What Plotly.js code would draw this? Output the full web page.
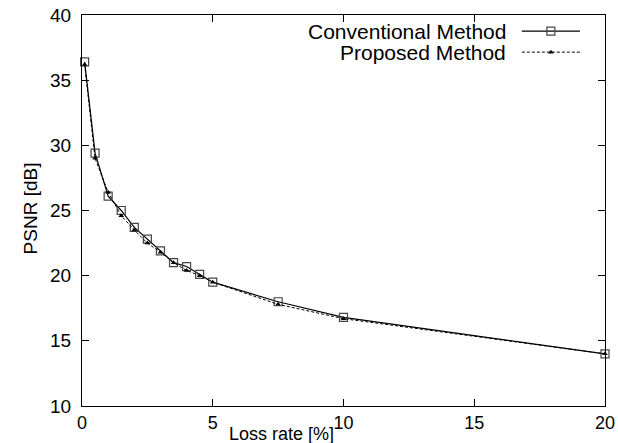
<!DOCTYPE html>
<html>
<head>
<meta charset="utf-8">
<script src="https://cdn.plot.ly/plotly-3.0.1.min.js"></script>
<style>html,body{margin:0;padding:0;background:#fff;}#chart{width:618px;height:443px;}</style>
</head>
<body>
<div id="chart"></div>
<script>
const lossRate = [0.1, 0.5, 1, 1.5, 2, 2.5, 3, 3.5, 4, 4.5, 5, 7.5, 10, 20];
const conventional = [36.4, 29.4, 26.1, 25.0, 23.7, 22.8, 21.9, 21.0, 20.7, 20.1, 19.5, 18.0, 16.8, 14.0];
const proposed = [36.2, 29.0, 26.4, 24.6, 23.5, 22.5, 21.8, 21.0, 20.4, 20.0, 19.5, 17.8, 16.7, 14.0];
const seriesNames = ['Conventional Method', 'Proposed Method'];
const xTicks = [0, 5, 10, 15, 20];
const yTicks = [10, 15, 20, 25, 30, 35, 40];
const xTitle = 'Loss rate [%]';
const yTitle = 'PSNR [dB]';

const fontFamily = 'Liberation Sans, Arial, Helvetica, sans-serif';
const font = {family: fontFamily, size: 19, color: '#000'};
const xFont = {family: fontFamily, size: 18, color: '#000'};
const legendFont = {family: fontFamily, size: 21, color: '#000'};
const convStyle = {line: {color: '#000', width: 1.2, dash: 'solid'}, marker: {symbol: 'square-open', size: 8, color: '#444', line: {width: 1.2, color: '#444'}}};
const propStyle = {line: {color: '#000', width: 1, dash: '3px,2px'}, marker: {symbol: 'triangle-up', size: 5, color: '#000'}};

// legend key geometry (on a hidden 0..1 overlay axis)
const keyX = [0.841, 0.952];
const keyRows = [0.959, 0.905];
const textRight = 0.815;

const traces = [
  Object.assign({x: lossRate, y: conventional, type: 'scatter', mode: 'lines+markers', name: seriesNames[0], showlegend: false, cliponaxis: false}, convStyle),
  Object.assign({x: lossRate, y: proposed, type: 'scatter', mode: 'lines+markers', name: seriesNames[1], showlegend: false, cliponaxis: false}, propStyle)
];
const styles = [convStyle, propStyle];
const annotations = [];
seriesNames.forEach((nm, i) => {
  traces.push(Object.assign({x: keyX, y: [keyRows[i], keyRows[i]], xaxis: 'x2', yaxis: 'y2', type: 'scatter', mode: 'lines', showlegend: false, hoverinfo: 'skip'}, {line: styles[i].line}));
  traces.push({x: [(keyX[0] + keyX[1]) / 2], y: [keyRows[i]], xaxis: 'x2', yaxis: 'y2', type: 'scatter', mode: 'markers', marker: styles[i].marker, showlegend: false, hoverinfo: 'skip'});
  annotations.push({xref: 'x2', yref: 'y2', x: textRight, y: keyRows[i], text: nm, showarrow: false, xanchor: 'right', yanchor: 'middle', font: legendFont});
});
annotations.push({xref: 'paper', yref: 'paper', x: 0.381, y: -0.0716, text: xTitle, showarrow: false, xanchor: 'center', yanchor: 'middle', borderpad: 0, font: xFont});
annotations.push({xref: 'paper', yref: 'paper', x: -0.099, y: 0.506, text: yTitle, showarrow: false, textangle: -90, xanchor: 'center', yanchor: 'middle', font: font});

const axisCommon = {showgrid: false, zeroline: false, showline: true, linecolor: '#000', linewidth: 1, mirror: 'ticks', ticks: 'inside', ticklen: 7, tickcolor: '#000', tickwidth: 1, tickfont: font};

const layout = {
  width: 618, height: 443,
  margin: {l: 82, r: 13, t: 15, b: 37},
  paper_bgcolor: '#fff', plot_bgcolor: '#fff',
  font: font,
  showlegend: false,
  xaxis: Object.assign({}, axisCommon, {range: [0, 20], tickvals: xTicks, ticktext: xTicks.map(String), tickfont: xFont}),
  yaxis: Object.assign({}, axisCommon, {range: [10, 40], tickvals: yTicks, ticktext: yTicks.map(String), ticklabelstandoff: 6}),
  xaxis2: {overlaying: 'x', range: [0, 1], visible: false, fixedrange: true},
  yaxis2: {overlaying: 'y', range: [0, 1], visible: false, fixedrange: true},
  annotations: annotations
};

Plotly.newPlot('chart', traces, layout, {displayModeBar: false, staticPlot: true});
</script>
</body>
</html>
